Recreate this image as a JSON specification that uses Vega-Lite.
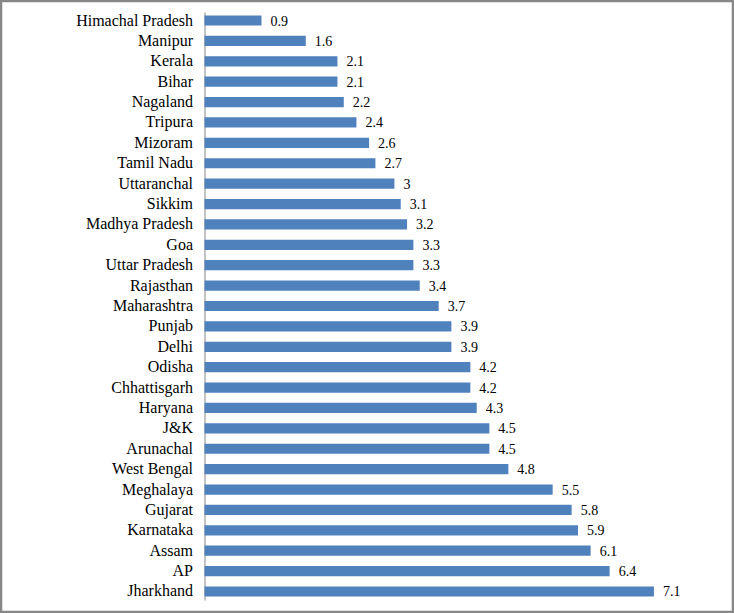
{
  "$schema": "https://vega.github.io/schema/vega-lite/v6.json",
  "autosize": "none",
  "width": 732,
  "height": 611,
  "padding": {"left": 1, "top": 1, "right": 1, "bottom": 1},
  "background": "white",
  "config": {
    "view": {"stroke": "#878787", "strokeWidth": 2.5},
    "font": "Liberation Serif"
  },
  "data": {
    "values": [
      {"state": "Himachal Pradesh", "value": 0.9},
      {"state": "Manipur", "value": 1.6},
      {"state": "Kerala", "value": 2.1},
      {"state": "Bihar", "value": 2.1},
      {"state": "Nagaland", "value": 2.2},
      {"state": "Tripura", "value": 2.4},
      {"state": "Mizoram", "value": 2.6},
      {"state": "Tamil Nadu", "value": 2.7},
      {"state": "Uttaranchal", "value": 3},
      {"state": "Sikkim", "value": 3.1},
      {"state": "Madhya Pradesh", "value": 3.2},
      {"state": "Goa", "value": 3.3},
      {"state": "Uttar Pradesh", "value": 3.3},
      {"state": "Rajasthan", "value": 3.4},
      {"state": "Maharashtra", "value": 3.7},
      {"state": "Punjab", "value": 3.9},
      {"state": "Delhi", "value": 3.9},
      {"state": "Odisha", "value": 4.2},
      {"state": "Chhattisgarh", "value": 4.2},
      {"state": "Haryana", "value": 4.3},
      {"state": "J&K", "value": 4.5},
      {"state": "Arunachal", "value": 4.5},
      {"state": "West Bengal", "value": 4.8},
      {"state": "Meghalaya", "value": 5.5},
      {"state": "Gujarat", "value": 5.8},
      {"state": "Karnataka", "value": 5.9},
      {"state": "Assam", "value": 6.1},
      {"state": "AP", "value": 6.4},
      {"state": "Jharkhand", "value": 7.1}
    ]
  },
  "encoding": {
    "y": {
      "field": "state",
      "type": "nominal",
      "sort": null,
      "scale": {"range": [11, 599], "paddingInner": 0.5, "paddingOuter": 0.167},
      "axis": {
        "title": null,
        "orient": "left",
        "offset": -203.5,
        "ticks": false,
        "domain": true,
        "domainColor": "#868686",
        "domainWidth": 1,
        "labelPadding": 12,
        "labelFont": "Liberation Serif",
        "labelFontSize": 16,
        "labelColor": "#000000",
        "labelLimit": 300
      }
    },
    "x": {
      "field": "value",
      "type": "quantitative",
      "scale": {"domain": [-3.215, 8.349], "nice": false, "zero": false},
      "axis": null
    }
  },
  "layer": [
    {
      "mark": {"type": "bar", "color": "#4F81BD"},
      "encoding": {"x2": {"datum": 0}}
    },
    {
      "mark": {"type": "text", "align": "left", "baseline": "middle", "dx": 9, "dy": 1, "fontSize": 14, "font": "Liberation Serif", "color": "#000000"},
      "encoding": {"text": {"field": "value", "type": "quantitative"}}
    }
  ]
}
